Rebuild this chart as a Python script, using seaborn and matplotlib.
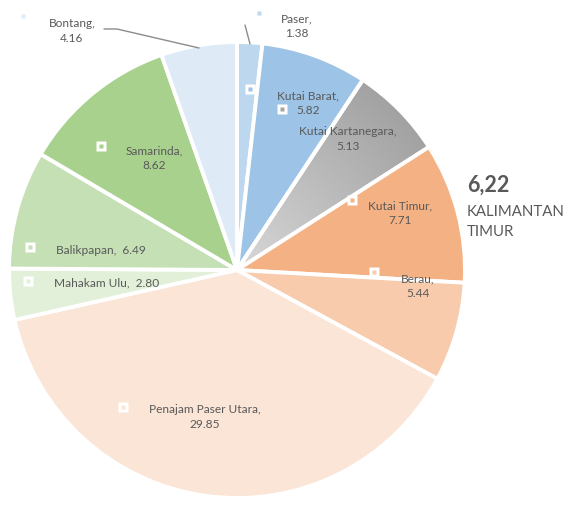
import numpy as np
import matplotlib
matplotlib.use("Agg")
import matplotlib.pyplot as plt
import seaborn as sns
from matplotlib.colors import LinearSegmentedColormap

# ---- data ----
regions = ["Paser", "Kutai Barat", "Kutai Kartanegara", "Kutai Timur", "Berau",
           "Penajam Paser Utara", "Mahakam Ulu", "Balikpapan", "Samarinda", "Bontang"]
values = [1.38, 5.82, 5.13, 7.71, 5.44, 29.85, 2.80, 6.49, 8.62, 4.16]
province_value = "6,22"
province_name = "KALIMANTAN\nTIMUR"

# ---- styles / layout ----
colors = ["#BDD7EE", "#9DC3E6", "#A5A5A5", "#F4B183", "#F8CBAD",
          "#FBE5D6", "#E2F0D9", "#C5E0B4", "#A9D18E", "#DEEBF7"]
label_pos = [(297, 26), (308, 103), (348, 139), (400, 213), (418, 286),
             (205, 417), (107, 283), (101, 250), (154, 158), (72, 31)]
key_pos = [(259, 14), (250, 90), (282, 110), (352, 201), (374, 273),
           (123, 408), (28, 282), (30, 248), (101, 147), (23, 17)]
single_line = {"Mahakam Ulu", "Balikpapan"}
text_color = "#595959"

sns.set_theme(style="white")
plt.rcParams["font.family"] = ["Lato", "DejaVu Sans"]

W, H = 572, 506
fig = plt.figure(figsize=(W / 100, H / 100), dpi=100)
ax = fig.add_axes([0, 0, 1, 1])

cx, cy, R = 237, 271, 228
wedges, _ = ax.pie(values, colors=colors, startangle=-90, counterclock=True,
                   center=(cx, cy), radius=R, frame=True,
                   wedgeprops=dict(edgecolor="white", linewidth=2.8))

# radial gradient for the grey slice
gw = wedges[2]
gw.set_facecolor("none")
yy, xx = np.mgrid[cy - R:cy + R:400j, cx - R:cx + R:400j]
d = np.hypot(xx - cx, yy - cy) / R
cmap = LinearSegmentedColormap.from_list("g", ["#D8D8D8", "#A2A2A2"])
im = ax.imshow(d, extent=(cx - R, cx + R, cy + R, cy - R), cmap=cmap,
               vmin=0, vmax=1, zorder=0.5, interpolation="bilinear")
im.set_clip_path(gw)

# legend keys in labels
for (x, y), c in zip(key_pos, colors):
    ax.plot(x, y, marker="s", ms=7, mfc="white", mec="none", zorder=3)
    ax.plot(x, y, marker="s", ms=2.2, mfc=c, mec="none", zorder=4)

# labels
for name, v, (x, y) in zip(regions, values, label_pos):
    txt = f"{name},  {v:.2f}" if name in single_line else f"{name},\n{v:.2f}"
    ax.text(x, y, txt, ha="center", va="center", fontsize=8.6, color=text_color,
            linespacing=1.45, zorder=5)

# leader lines
ax.plot([104, 117, 199], [30, 30, 49], color="#8C8C8C", lw=1, zorder=2)
ax.plot([245, 250], [26, 45], color="#8C8C8C", lw=1, zorder=2)

# province annotation
ax.text(467, 185, province_value, fontsize=15.5, fontweight="bold", color=text_color,
        ha="left", va="center")
ax.text(467, 222, province_name, fontsize=10.8, color=text_color, ha="left",
        va="center", linespacing=1.55)

ax.set_xlim(0, W)
ax.set_ylim(H, 0)
ax.set_aspect("equal")
ax.axis("off")

fig.savefig("out.png", dpi=100)
